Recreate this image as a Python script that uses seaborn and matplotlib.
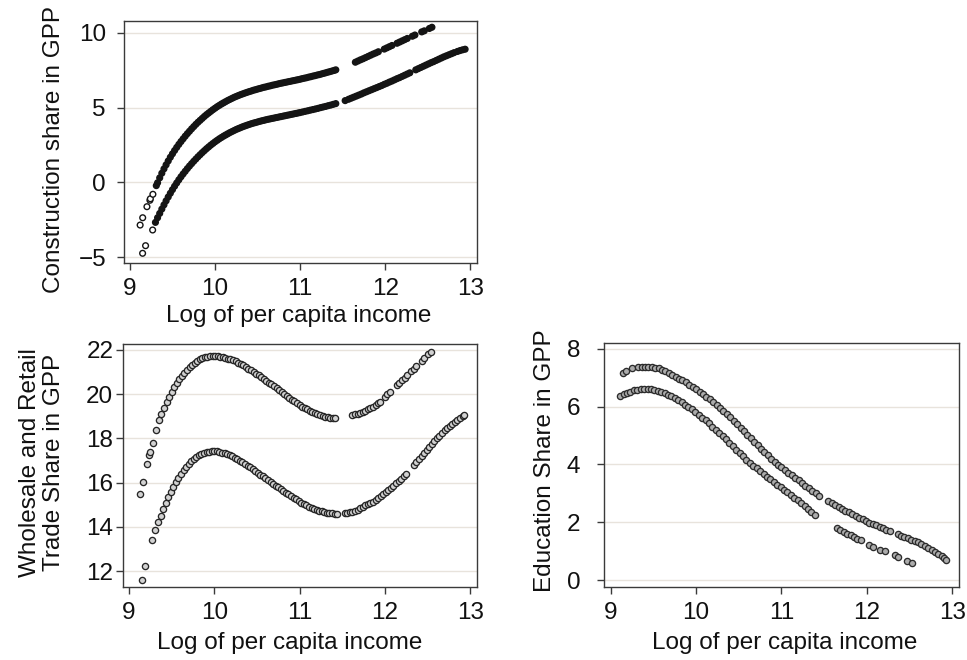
import matplotlib
matplotlib.use("Agg")
import matplotlib.pyplot as plt
import numpy as np
import pandas as pd
import seaborn as sns

# ---------------- data ----------------
x_ticks = [9, 10, 11, 12, 13]
p1_yticks = [-5, 0, 5, 10]
p2_yticks = [12, 14, 16, 18, 20, 22]
p3_yticks = [0, 2, 4, 6, 8]

x_label = "Log of per capita income"
p1_ylabel = "Construction share in GPP"
p2_ylabel = "Wholesale and Retail\nTrade Share in GPP"
p3_ylabel = "Education Share in GPP"

# Panel 1: construction, upper band
p1_up_x = [9.12, 9.15, 9.20, 9.235, 9.24, 9.27, 9.31,
           9.325, 9.35, 9.375, 9.40, 9.425, 9.45, 9.475, 9.50, 9.525, 9.55, 9.575, 9.60,
           9.625, 9.65, 9.675, 9.70, 9.725, 9.75, 9.775, 9.80, 9.825, 9.85, 9.875, 9.90,
           9.925, 9.95, 9.975, 10.00, 10.025, 10.05, 10.075, 10.10, 10.125, 10.15, 10.175,
           10.20, 10.225, 10.25, 10.275, 10.30, 10.325, 10.35, 10.375, 10.40, 10.425, 10.45,
           10.475, 10.50, 10.525, 10.55, 10.575, 10.60, 10.625, 10.65, 10.675, 10.70, 10.725,
           10.75, 10.775, 10.80, 10.825, 10.85, 10.875, 10.90, 10.925, 10.95, 10.975, 11.00,
           11.025, 11.05, 11.075, 11.10, 11.125, 11.15, 11.175, 11.20, 11.225, 11.25, 11.275,
           11.30, 11.325, 11.35, 11.375, 11.40, 11.42,
           11.65, 11.68, 11.71, 11.74, 11.77, 11.80, 11.83, 11.86, 11.89, 11.92, 11.99, 12.02,
           12.05, 12.08, 12.14, 12.17, 12.20, 12.23, 12.26, 12.32, 12.35, 12.43, 12.46, 12.52,
           12.55]
p1_up_y = [-2.86, -2.37, -1.63, -1.20, -1.10, -0.80, -0.22,
           -0.03, 0.30, 0.61, 0.90, 1.17, 1.43, 1.68, 1.91, 2.13, 2.34, 2.54, 2.73,
           2.91, 3.09, 3.26, 3.42, 3.58, 3.73, 3.88, 4.02, 4.15, 4.28, 4.41, 4.53,
           4.64, 4.75, 4.86, 4.96, 5.06, 5.15, 5.24, 5.32, 5.40, 5.48, 5.55,
           5.62, 5.69, 5.75, 5.81, 5.87, 5.92, 5.97, 6.02, 6.07, 6.11, 6.16,
           6.20, 6.24, 6.28, 6.32, 6.36, 6.39, 6.43, 6.46, 6.50, 6.53, 6.56,
           6.60, 6.63, 6.66, 6.69, 6.72, 6.75, 6.78, 6.81, 6.84, 6.87, 6.90,
           6.94, 6.97, 7.00, 7.04, 7.07, 7.11, 7.14, 7.18, 7.21, 7.25, 7.29,
           7.33, 7.37, 7.41, 7.45, 7.49, 7.53,
           8.04, 8.12, 8.20, 8.27, 8.35, 8.43, 8.51, 8.59, 8.66, 8.74, 8.92, 9.00,
           9.08, 9.16, 9.31, 9.39, 9.47, 9.55, 9.63, 9.78, 9.86, 10.07, 10.14, 10.30,
           10.38]

# Panel 1: construction, lower band
p1_lo_x = [9.149, 9.184, 9.267,
           9.30, 9.325, 9.35, 9.375, 9.40, 9.425, 9.45, 9.475, 9.50, 9.525, 9.55, 9.575, 9.60,
           9.625, 9.65, 9.675, 9.70, 9.725, 9.75, 9.775, 9.80, 9.825, 9.85, 9.875, 9.90,
           9.925, 9.95, 9.975, 10.00, 10.025, 10.05, 10.075, 10.10, 10.125, 10.15, 10.175,
           10.20, 10.225, 10.25, 10.275, 10.30, 10.325, 10.35, 10.375, 10.40, 10.425, 10.45,
           10.475, 10.50, 10.525, 10.55, 10.575, 10.60, 10.625, 10.65, 10.675, 10.70, 10.725,
           10.75, 10.775, 10.80, 10.825, 10.85, 10.875, 10.90, 10.925, 10.95, 10.975, 11.00,
           11.03, 11.06, 11.09, 11.12, 11.15, 11.18, 11.21, 11.24, 11.27, 11.30, 11.33, 11.36,
           11.39, 11.42,
           11.53, 11.57, 11.60, 11.63, 11.66, 11.69, 11.72, 11.75, 11.78, 11.81, 11.84, 11.87,
           11.90, 11.93, 11.96, 11.99, 12.02, 12.05, 12.08, 12.11, 12.14, 12.17, 12.20, 12.23,
           12.26, 12.29,
           12.36, 12.39, 12.42, 12.45, 12.48, 12.51, 12.54, 12.57, 12.60, 12.63, 12.66, 12.69,
           12.72, 12.75, 12.78, 12.81, 12.85, 12.88, 12.91, 12.94]
p1_lo_y = [-4.75, -4.24, -3.19,
           -2.68, -2.37, -2.08, -1.79, -1.51, -1.24, -0.98, -0.73, -0.49, -0.26, -0.04, 0.17, 0.37,
           0.56, 0.74, 0.92, 1.09, 1.25, 1.41, 1.56, 1.71, 1.85, 1.99, 2.12, 2.25,
           2.37, 2.49, 2.60, 2.71, 2.81, 2.91, 3.00, 3.09, 3.17, 3.25, 3.33,
           3.40, 3.47, 3.54, 3.60, 3.66, 3.72, 3.77, 3.82, 3.87, 3.92, 3.96,
           4.00, 4.04, 4.08, 4.12, 4.15, 4.19, 4.22, 4.25, 4.28, 4.31, 4.34,
           4.37, 4.40, 4.43, 4.46, 4.49, 4.52, 4.55, 4.58, 4.61, 4.64, 4.67,
           4.71, 4.75, 4.79, 4.83, 4.87, 4.91, 4.95, 5.00, 5.04, 5.08, 5.13, 5.17,
           5.22, 5.27,
           5.47, 5.56, 5.63, 5.70, 5.77, 5.84, 5.91, 5.99, 6.06, 6.13, 6.20, 6.27,
           6.34, 6.41, 6.48, 6.56, 6.63, 6.71, 6.78, 6.86, 6.94, 7.01, 7.09, 7.17,
           7.25, 7.33,
           7.53, 7.61, 7.69, 7.77, 7.85, 7.93, 8.01, 8.08, 8.16, 8.24, 8.32, 8.40,
           8.47, 8.54, 8.61, 8.68, 8.76, 8.82, 8.87, 8.91]

# Panel 2: wholesale and retail trade, upper band
p2_up_x = [9.13, 9.164, 9.21, 9.235, 9.245, 9.28,
           9.32, 9.35, 9.38, 9.41, 9.44, 9.47, 9.50, 9.53, 9.56, 9.59, 9.62, 9.65, 9.68, 9.71,
           9.74, 9.77, 9.80, 9.83, 9.86, 9.89, 9.92, 9.95, 9.98, 10.01, 10.04, 10.07, 10.10,
           10.13, 10.16, 10.19, 10.22, 10.25, 10.28, 10.31, 10.34, 10.37, 10.40, 10.43, 10.46,
           10.49, 10.52, 10.55, 10.58, 10.61, 10.64, 10.67, 10.70, 10.73, 10.76, 10.79, 10.82,
           10.85, 10.88, 10.91, 10.94, 10.97, 11.00, 11.03, 11.06, 11.09, 11.12, 11.15, 11.18,
           11.21, 11.24, 11.27, 11.30, 11.33, 11.36, 11.39, 11.41,
           11.62, 11.65, 11.68, 11.71, 11.74, 11.77, 11.80, 11.83, 11.86, 11.89, 11.92, 11.94,
           12.00, 12.03, 12.06, 12.14, 12.17, 12.20, 12.23, 12.26, 12.31, 12.34, 12.37,
           12.43, 12.46, 12.51, 12.54]
p2_up_y = [15.48, 16.04, 16.86, 17.26, 17.40, 17.78,
           18.37, 18.82, 19.12, 19.38, 19.64, 19.87, 20.09, 20.32, 20.50, 20.68, 20.84, 20.98, 21.11, 21.23,
           21.34, 21.43, 21.50, 21.57, 21.62, 21.67, 21.70, 21.72, 21.73, 21.73, 21.72, 21.70, 21.67,
           21.64, 21.61, 21.57, 21.53, 21.48, 21.42, 21.36, 21.30, 21.23, 21.16, 21.09, 21.01,
           20.93, 20.85, 20.77, 20.69, 20.61, 20.52, 20.44, 20.35, 20.27, 20.18, 20.09, 20.00,
           19.92, 19.83, 19.75, 19.67, 19.59, 19.51, 19.44, 19.37, 19.31, 19.25, 19.20, 19.15,
           19.10, 19.06, 19.02, 18.99, 18.96, 18.94, 18.93, 18.92,
           19.07, 19.09, 19.12, 19.16, 19.20, 19.25, 19.31, 19.37, 19.44, 19.52, 19.60, 19.66,
           19.88, 19.99, 20.10, 20.40, 20.52, 20.63, 20.75, 20.86, 21.05, 21.16, 21.28,
           21.50, 21.62, 21.81, 21.93]

# Panel 2: wholesale and retail trade, lower band
p2_lo_x = [9.156, 9.19, 9.27,
           9.31, 9.34, 9.37, 9.40, 9.43, 9.46, 9.49, 9.52, 9.55, 9.58, 9.61, 9.64, 9.67, 9.70,
           9.73, 9.76, 9.79, 9.82, 9.85, 9.88, 9.91, 9.94, 9.97, 10.00, 10.03, 10.06, 10.09,
           10.12, 10.15, 10.18, 10.21, 10.24, 10.27, 10.30, 10.33, 10.36, 10.39, 10.42, 10.45,
           10.48, 10.51, 10.54, 10.57, 10.60, 10.63, 10.66, 10.69, 10.72, 10.75, 10.78, 10.81,
           10.84, 10.87, 10.90, 10.93, 10.96, 10.99, 11.02, 11.05, 11.08, 11.11, 11.14, 11.17,
           11.20, 11.23, 11.26, 11.29, 11.32, 11.35, 11.38, 11.41, 11.44,
           11.53, 11.56, 11.59, 11.62, 11.65, 11.68, 11.71, 11.74, 11.77, 11.80, 11.83, 11.86,
           11.89, 11.92, 11.95, 11.98, 12.01, 12.04, 12.07, 12.10, 12.13, 12.16, 12.19, 12.22,
           12.25,
           12.34, 12.37, 12.40, 12.43, 12.46, 12.49, 12.52, 12.55, 12.58, 12.61, 12.64, 12.67,
           12.70, 12.73, 12.76, 12.79, 12.82, 12.85, 12.88, 12.91, 12.93]
p2_lo_y = [11.58, 12.21, 13.39,
           13.87, 14.20, 14.50, 14.80, 15.07, 15.33, 15.58, 15.80, 16.01, 16.21, 16.39, 16.55, 16.70, 16.84,
           16.96, 17.06, 17.15, 17.23, 17.29, 17.34, 17.38, 17.40, 17.42, 17.42, 17.41, 17.39, 17.36,
           17.33, 17.29, 17.24, 17.19, 17.13, 17.06, 16.99, 16.92, 16.85, 16.77, 16.69, 16.61,
           16.53, 16.44, 16.36, 16.28, 16.19, 16.11, 16.03, 15.95, 15.87, 15.79, 15.71, 15.63,
           15.55, 15.47, 15.39, 15.32, 15.24, 15.17, 15.10, 15.03, 14.97, 14.91, 14.86, 14.81,
           14.77, 14.73, 14.70, 14.67, 14.64, 14.62, 14.61, 14.60, 14.59,
           14.62, 14.64, 14.66, 14.69, 14.73, 14.78, 14.84, 14.90, 14.97, 15.03, 15.08, 15.13,
           15.21, 15.30, 15.39, 15.48, 15.57, 15.67, 15.77, 15.87, 15.97, 16.07, 16.17, 16.28,
           16.39,
           16.82, 16.95, 17.08, 17.22, 17.36, 17.49, 17.63, 17.76, 17.89, 18.01, 18.13, 18.25,
           18.36, 18.46, 18.56, 18.66, 18.76, 18.85, 18.93, 19.00, 19.04]

# Panel 3: education, upper band
p3_up_x = [9.145, 9.18, 9.25,
           9.32, 9.36, 9.40, 9.44, 9.48, 9.52, 9.56, 9.60, 9.64, 9.68, 9.72, 9.76, 9.80, 9.84,
           9.88, 9.92, 9.96, 10.00, 10.04, 10.08, 10.12, 10.16, 10.20, 10.24, 10.28, 10.32,
           10.36, 10.40, 10.44, 10.48, 10.52, 10.56, 10.60, 10.64, 10.68, 10.72, 10.76, 10.80,
           10.84, 10.88, 10.92, 10.96, 11.00, 11.04, 11.08, 11.12, 11.16, 11.20, 11.24, 11.28,
           11.32, 11.36, 11.40, 11.44,
           11.55, 11.59, 11.63, 11.67, 11.71, 11.75, 11.79, 11.83, 11.87, 11.91, 11.95, 11.99,
           12.03, 12.07, 12.11, 12.15, 12.19, 12.23, 12.27,
           12.36, 12.40, 12.44, 12.48, 12.52, 12.56, 12.60, 12.64, 12.68, 12.72, 12.76, 12.80,
           12.84, 12.88, 12.91, 12.93]
p3_up_y = [7.17, 7.23, 7.33,
           7.36, 7.37, 7.38, 7.38, 7.37, 7.35, 7.32, 7.28, 7.23, 7.17, 7.11, 7.04, 6.97, 6.91,
           6.84, 6.76, 6.68, 6.60, 6.52, 6.43, 6.34, 6.25, 6.15, 6.05, 5.95, 5.85,
           5.74, 5.63, 5.51, 5.39, 5.27, 5.15, 5.03, 4.91, 4.79, 4.67, 4.55, 4.43,
           4.31, 4.20, 4.09, 3.99, 3.90, 3.81, 3.72, 3.63, 3.54, 3.45, 3.36, 3.27,
           3.18, 3.09, 3.00, 2.92,
           2.73, 2.66, 2.59, 2.52, 2.46, 2.40, 2.34, 2.28, 2.22, 2.16, 2.10, 2.04,
           1.99, 1.94, 1.89, 1.84, 1.79, 1.74, 1.69,
           1.58, 1.53, 1.49, 1.44, 1.40, 1.35, 1.30, 1.24, 1.18, 1.12, 1.05, 0.98,
           0.91, 0.84, 0.76, 0.70]

# Panel 3: education, lower band
p3_lo_x = [9.11, 9.15, 9.19, 9.23, 9.27, 9.31, 9.35, 9.39, 9.43, 9.47, 9.51, 9.55, 9.59,
           9.63, 9.67, 9.71, 9.75, 9.79, 9.83, 9.87, 9.91, 9.95, 9.99, 10.03, 10.07, 10.11,
           10.15, 10.19, 10.23, 10.27, 10.31, 10.35, 10.39, 10.43, 10.47, 10.51, 10.55, 10.59,
           10.63, 10.67, 10.71, 10.75, 10.79, 10.83, 10.87, 10.91, 10.95, 10.99, 11.03, 11.07,
           11.11, 11.15, 11.19, 11.23, 11.27, 11.31, 11.35, 11.39,
           11.65, 11.69, 11.73, 11.77, 11.81, 11.85, 11.89, 11.93, 12.03, 12.07, 12.16, 12.21,
           12.33, 12.37, 12.47, 12.53]
p3_lo_y = [6.36, 6.42, 6.47, 6.52, 6.56, 6.59, 6.61, 6.62, 6.62, 6.61, 6.59, 6.55, 6.51,
           6.46, 6.41, 6.35, 6.29, 6.22, 6.15, 6.07, 5.99, 5.90, 5.81, 5.72, 5.62, 5.52,
           5.42, 5.31, 5.20, 5.09, 4.98, 4.87, 4.75, 4.63, 4.51, 4.40, 4.28, 4.17,
           4.06, 3.96, 3.86, 3.76, 3.66, 3.57, 3.48, 3.39, 3.30, 3.21, 3.12, 3.03,
           2.94, 2.85, 2.76, 2.66, 2.56, 2.46, 2.35, 2.25,
           1.80, 1.73, 1.67, 1.61, 1.55, 1.49, 1.43, 1.37, 1.22, 1.16, 1.05, 0.99,
           0.85, 0.80, 0.67, 0.59]


def band_frame(up_x, up_y, lo_x, lo_y):
    up = pd.DataFrame({"x": up_x, "y": up_y, "band": "upper"})
    lo = pd.DataFrame({"x": lo_x, "y": lo_y, "band": "lower"})
    return pd.concat([up, lo], ignore_index=True)


def flag_crowded(df, sx, sy, thr, min_run):
    """Points in chains of >= min_run neighbours closer than thr (screen-ish px) render solid."""
    crowded = np.zeros(len(df), dtype=bool)
    for _, g in df.groupby("band"):
        g = g.sort_values("x")
        px = g["x"].to_numpy() * sx
        py = g["y"].to_numpy() * sy
        link = np.hypot(np.diff(px), np.diff(py)) < thr
        chain_id = np.r_[0, np.cumsum(~link)]
        sizes = np.bincount(chain_id)
        crowded[g.index.to_numpy()] = sizes[chain_id] >= min_run
    df = df.copy()
    df["crowded"] = np.where(crowded, "dense", "sparse")
    return df


df1 = flag_crowded(band_frame(p1_up_x, p1_up_y, p1_lo_x, p1_lo_y), 85.0, 14.93, 6.5, 4)
df2 = band_frame(p2_up_x, p2_up_y, p2_lo_x, p2_lo_y)
df3 = band_frame(p3_up_x, p3_up_y, p3_lo_x, p3_lo_y)

# ---------------- style ----------------
sns.set_theme(style="white")
plt.rcParams["font.family"] = ["Liberation Sans", "DejaVu Sans"]
plt.rcParams["axes.unicode_minus"] = True

fig = plt.figure(figsize=(9.67, 6.60), dpi=100)
fig.patch.set_facecolor("white")
ax1 = fig.add_axes([0.1282, 0.6015, 0.3651, 0.3667])
ax2 = fig.add_axes([0.1272, 0.1106, 0.3661, 0.3682])
ax3 = fig.add_axes([0.6246, 0.1106, 0.3671, 0.3697])

FS_TICK = 17.5
FS_XLAB = 17.5
FS_YLAB = 17.5
SPINE = "#3a3a3a"
GRID = "#e8e3dc"
TXT = "#111111"

sns.scatterplot(data=df1, x="x", y="y", hue="crowded", ax=ax1, s=17,
                palette={"dense": "#141414", "sparse": "white"},
                edgecolor="#141414", linewidth=1.0, legend=False, zorder=3)
sns.scatterplot(data=df2, x="x", y="y", ax=ax2, s=20, color="#d2d2d2",
                edgecolor="#262626", linewidth=0.95, legend=False, zorder=3)
sns.scatterplot(data=df3, x="x", y="y", ax=ax3, s=20, color="#acacac",
                edgecolor="#2c2c2c", linewidth=0.95, legend=False, zorder=3)

setup = [
    (ax1, (8.93, 13.08), (-5.4, 10.8), p1_yticks, p1_ylabel, 8, (-0.168, 0.467), (0.495, -0.175)),
    (ax2, (8.93, 13.08), (11.28, 22.27), p2_yticks, p2_ylabel, 2, (-0.165, 0.514), (0.472, -0.185)),
    (ax3, (8.92, 13.08), (-0.24, 8.2), p3_yticks, p3_ylabel, 12, (-0.135, 0.516), (0.510, -0.185)),
]

for ax, xl, yl, yt, ylab, ypad, ylc, xlc in setup:
    ax.set_facecolor("white")
    ax.set_xlim(*xl)
    ax.set_ylim(*yl)
    ax.set_xticks(x_ticks)
    ax.set_yticks(yt)
    ax.grid(axis="y", color=GRID, linewidth=1.0)
    ax.grid(axis="x", visible=False)
    ax.set_axisbelow(True)
    for sp in ax.spines.values():
        sp.set_visible(True)
        sp.set_color(SPINE)
        sp.set_linewidth(1.0)
    ax.tick_params(axis="both", which="major", direction="out", length=5, width=1,
                   color=SPINE, labelsize=FS_TICK, labelcolor=TXT,
                   left=True, bottom=True, right=False, top=False)
    ax.tick_params(axis="y", pad=ypad)
    ax.tick_params(axis="x", pad=6)
    ax.set_xlabel(x_label, fontsize=FS_XLAB, color=TXT)
    ax.set_ylabel(ylab, fontsize=FS_YLAB, color=TXT, linespacing=1.12)
    ax.yaxis.set_label_coords(*ylc)
    ax.xaxis.set_label_coords(*xlc)

fig.savefig("out.png", dpi=100, facecolor="white")
